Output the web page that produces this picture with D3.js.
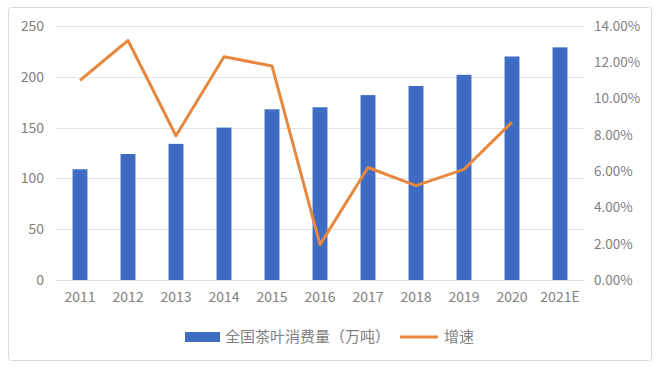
<!DOCTYPE html>
<html>
<head>
<meta charset="utf-8">
<script src="https://cdn.jsdelivr.net/npm/d3@7"></script>
<style>
  body { margin: 0; background: #fff; }
  svg text { font-family: "Noto Sans CJK SC", "DejaVu Sans", sans-serif; }
</style>
</head>
<body>
<div id="chart"></div>
<script>
// data
const years = ['2011', '2012', '2013', '2014', '2015', '2016', '2017', '2018', '2019', '2020', '2021E'];
const consumption = [109, 124, 134, 150, 168, 170, 182, 191, 202, 220, 229];
const growth = [11.0, 13.2, 7.95, 12.3, 11.8, 1.95, 6.2, 5.2, 6.1, 8.7, null];
const leftTicks = [0, 50, 100, 150, 200, 250];
const rightTicks = [0, 2, 4, 6, 8, 10, 12, 14];
const legendLabels = ['全国茶叶消费量（万吨）', '增速'];

const W = 660, H = 370;
const MARGIN = { top: 26, right: 76, bottom: 90, left: 56 };
const gW = W - MARGIN.left - MARGIN.right;
const gH = H - MARGIN.top - MARGIN.bottom;

const barColor = '#3d6cc2';
const lineColor = '#e8873e';
const textColor = '#7f7f7f';

const svg = d3.select('#chart').append('svg')
    .attr('width', W).attr('height', H);

// outer frame
svg.append('rect')
    .attr('x', 8.5).attr('y', 7.5)
    .attr('width', 643).attr('height', 353)
    .attr('rx', 3)
    .attr('fill', '#fff')
    .attr('stroke', '#d9d9d9');

const g = svg.append('g')
    .attr('transform', `translate(${MARGIN.left},${MARGIN.top})`);

// SCALES
const x = d3.scaleBand()
    .domain(years)
    .range([0, gW])
    .paddingInner(0.69)
    .paddingOuter(0.345);

const y = d3.scaleLinear().domain([0, 250]).range([gH, 0]);
const y2 = d3.scaleLinear().domain([0, 14]).range([gH, 0]);

// GRID
g.append('g').selectAll('line')
    .data(leftTicks)
    .join('line')
    .attr('x1', 0).attr('x2', gW)
    .attr('y1', d => Math.round(y(d)) + 0.5)
    .attr('y2', d => Math.round(y(d)) + 0.5)
    .attr('stroke', '#e3e3e3');

// LEFT AXIS
const yAxis = g.append('g')
    .call(d3.axisLeft(y).tickValues(leftTicks).tickSize(0).tickPadding(12));
yAxis.select('.domain').remove();
yAxis.selectAll('text').attr('fill', textColor).style('font-size', '14px');

// RIGHT AXIS
const y2Axis = g.append('g')
    .attr('transform', `translate(${gW},0)`)
    .call(d3.axisRight(y2).tickValues(rightTicks).tickSize(0).tickPadding(10)
        .tickFormat(d => d.toFixed(2) + '%'));
y2Axis.select('.domain').remove();
y2Axis.selectAll('text').attr('fill', textColor).style('font-size', '13.5px');

// X AXIS
const xAxis = g.append('g')
    .attr('transform', `translate(0,${gH})`)
    .call(d3.axisBottom(x).tickSize(0).tickPadding(12));
xAxis.select('.domain').attr('stroke', '#dcdcdc');
xAxis.selectAll('text').attr('fill', textColor).style('font-size', '14px');

// BARS
g.selectAll('.bar')
    .data(years.map((d, i) => ({ year: d, value: consumption[i] })))
    .join('rect')
    .attr('class', 'bar')
    .attr('x', d => x(d.year))
    .attr('width', x.bandwidth())
    .attr('y', d => y(d.value))
    .attr('height', d => y(0) - y(d.value))
    .attr('fill', barColor);

// LINE
const lineData = years.map((d, i) => ({ year: d, value: growth[i] }))
    .filter(d => d.value !== null);

g.append('path')
    .datum(lineData)
    .attr('fill', 'none')
    .attr('stroke', lineColor)
    .attr('stroke-width', 3)
    .attr('stroke-linejoin', 'round')
    .attr('d', d3.line()
        .x(d => x(d.year) + x.bandwidth() / 2)
        .y(d => y2(d.value)));

// LEGEND
const legend = svg.append('g').attr('transform', 'translate(185,337)');
legend.append('rect')
    .attr('x', 0).attr('y', -5)
    .attr('width', 35).attr('height', 10)
    .attr('fill', barColor);
legend.append('text')
    .attr('x', 40).attr('y', 0).attr('dy', '0.35em')
    .attr('fill', textColor).style('font-size', '15px')
    .text(legendLabels[0]);
legend.append('line')
    .attr('x1', 215).attr('x2', 253)
    .attr('y1', 0).attr('y2', 0)
    .attr('stroke', lineColor).attr('stroke-width', 3);
legend.append('text')
    .attr('x', 259).attr('y', 0).attr('dy', '0.35em')
    .attr('fill', textColor).style('font-size', '15px')
    .text(legendLabels[1]);
</script>
</body>
</html>
